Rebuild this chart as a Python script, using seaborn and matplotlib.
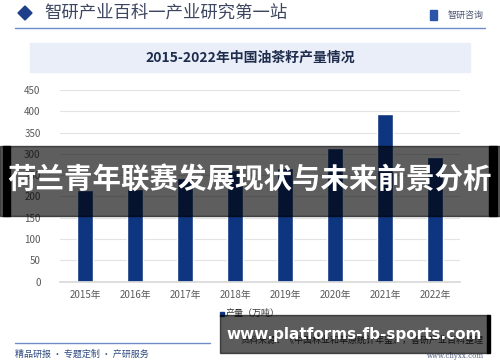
import matplotlib
matplotlib.use("Agg")
import matplotlib.pyplot as plt
import seaborn as sns
import pandas as pd
from matplotlib.patches import Rectangle, Polygon

years = ["2015年", "2016年", "2017年", "2018年", "2019年", "2020年", "2021年", "2022年"]
output = [216, 217, 243, 263, 268, 314, 394, 293]
yticks = [0, 50, 100, 150, 200, 250, 300, 350, 400, 450]

sns.set_theme(style="white")
plt.rcParams['font.family'] = ['Noto Sans CJK SC', 'DejaVu Sans']

W, H = 500, 362
fig = plt.figure(figsize=(5.0, 3.62), dpi=100)
fig.patch.set_facecolor("white")

def fx(x):
    return x / W

def fy(y):
    return 1 - y / H

# header
fig.patches.append(Polygon([[fx(18), fy(13)], [fx(25), fy(6)], [fx(32), fy(13)], [fx(25), fy(20)]],
                           closed=True, transform=fig.transFigure, color="#1f3f8a"))
fig.text(fx(44), fy(13), "智研产业百科一产业研究第一站", fontsize=12.5, color="#3d4660",
         va="center", ha="left", fontweight="medium")
fig.text(fx(484), fy(15), "智研咨询", fontsize=6.5, color="#4a5570", va="center", ha="right")
fig.patches.append(Rectangle((fx(430), fy(20)), fx(7), 10 / H, transform=fig.transFigure,
                             color="#2b55a8"))
fig.lines.append(plt.Line2D([fx(15), fx(485)], [fy(28), fy(28)], transform=fig.transFigure,
                            color="#6f8cc8", lw=1.0))

# title box
fig.patches.append(Rectangle((fx(30), fy(72)), fx(440), 29 / H, transform=fig.transFigure,
                             color="#e9eef8", zorder=0))
fig.text(fx(250), fy(58), "2015-2022年中国油茶籽产量情况", fontsize=10, color="#1f2d4d",
         ha="center", va="center", fontweight="bold")

# chart
df = pd.DataFrame({"year": years, "output": output})
ax = fig.add_axes([fx(60), fy(281.7), fx(400), (281.7 - 90) / H])
sns.barplot(data=df, x="year", y="output", color="#0e3580", width=0.32, ax=ax,
            saturation=1, label="产量（万吨）", legend=False)
ax.set_ylim(0, 450)
ax.set_xlim(-0.5, 7.5)
ax.set_yticks(yticks)
ax.set_yticklabels([str(v) for v in yticks])
ax.grid(axis="y", color="#e3e3e3", lw=0.8)
ax.set_axisbelow(True)
for s in ["top", "right", "left"]:
    ax.spines[s].set_visible(False)
ax.spines["bottom"].set_color("#d9d9d9")
ax.tick_params(axis="both", length=0, labelsize=7, colors="#595959", pad=6)
ax.tick_params(axis="y", pad=14)
ax.set_xlabel("")
ax.set_ylabel("")
ax.patch.set_alpha(0)

# legend
fig.patches.append(Rectangle((fx(220), fy(316)), fx(4), 4 / H, transform=fig.transFigure,
                             color="#0e3580"))
fig.text(fx(226), fy(313.5), "产量（万吨）", fontsize=6.5, color="#333333", va="center", ha="left")

# footer
fig.lines.append(plt.Line2D([fx(15), fx(210)], [fy(343), fy(343)], transform=fig.transFigure,
                            color="#6f8cc8", lw=1.0))
fig.text(fx(15), fy(354), "精品研报 · 专题定制 · 产研服务", fontsize=6.5, color="#2f4a80",
         va="center", ha="left")
fig.text(fx(484), fy(340), "资料来源：《中国林业和草原统计年鉴》，智研产业百科整理", fontsize=6.5,
         color="#333333", va="center", ha="right")
fig.text(fx(484), fy(356), "www.chyxx.com", fontsize=5, color="#556080", va="center", ha="right",
         family=["DejaVu Serif"])

# overlay banner
fig.patches.append(Rectangle((0, fy(216)), 1, 70 / H, transform=fig.transFigure,
                             color="black", alpha=0.63, zorder=10))
fig.patches.append(Rectangle((fx(3), fy(216)), fx(7), 70 / H, transform=fig.transFigure,
                             color="black", zorder=11))
fig.patches.append(Rectangle((fx(489), fy(216)), fx(8), 70 / H, transform=fig.transFigure,
                             color="black", zorder=11))
fig.text(fx(250), fy(181), "荷兰青年联赛发展现状与未来前景分析", fontsize=20.5, color="white",
         ha="center", va="center", fontweight="bold", zorder=12)

# overlay url
fig.patches.append(Rectangle((fx(220), fy(353)), fx(268), 38 / H, transform=fig.transFigure,
                             color="black", alpha=0.64, zorder=10))
fig.patches.append(Rectangle((fx(487), fy(353)), fx(3), 38 / H, transform=fig.transFigure,
                             color="black", zorder=11))
fig.text(fx(354), fy(334), "www.platforms-fb-sports.com", fontsize=11, color="white",
         ha="center", va="center", fontweight="bold", zorder=12, family=["DejaVu Sans"])

fig.savefig("out.png", dpi=100)
